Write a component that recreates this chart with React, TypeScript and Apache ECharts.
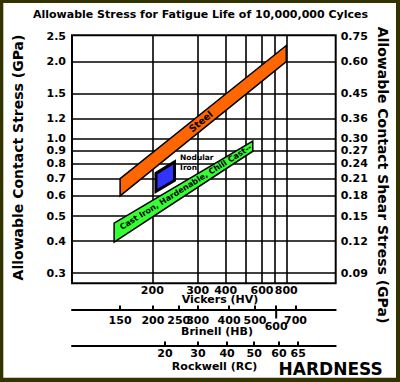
import React, { useEffect, useRef } from 'react';
import * as echarts from 'echarts';

// The hardness scale of this chart is logarithmic in (HV - 80); stress is logarithmic.
const HV_OFFSET = 80;
const hvRange = [121, 1474];
const gpaRange = [0.274, 2.53];

const vickersGrid = [200, 300, 400, 500, 600, 700, 800];
const vickersLabels = [200, 300, 400, 600, 800];

const brinellLabels = ['150', '200', '250', '300', '400', '500', '600', '700'];
const brinellAtHV = [158, 201, 251, 300, 415, 554, 709, 894];
const brinellLongTick = '600';

const rockwellLabels = ['20', '30', '40', '50', '60', '65'];
const rockwellAtHV = [222, 301, 406, 549, 733, 924];

const stressTicks = [2.5, 2.0, 1.5, 1.2, 1.0, 0.9, 0.8, 0.7, 0.6, 0.5, 0.4, 0.3];
const stressLabels = ['2.5', '2.0', '1.5', '1.2', '1.0', '0.9', '0.8', '0.7', '0.6', '0.5', '0.4', '0.3'];
const shearLabels = ['0.75', '0.60', '0.45', '0.36', '0.30', '0.27', '0.24', '0.21', '0.18', '0.15', '0.12', '0.09'];
const stressGrid = [2.0, 1.5, 1.2, 1.0, 0.9, 0.8, 0.7, 0.6, 0.5, 0.4, 0.3];

const bandNames = ['Steel', 'Cast Iron, Hardenable, Chill Cast--', 'Nodular\nIron'];
const bandHV = [[158, 800], [152, 540], [206, 241.5]];
const bandLeftGPa = [[0.60, 0.70], [0.396, 0.47], [0.625, 0.734]];
const bandRightGPa = [[2.0, 2.31], [0.895, 0.98], [0.689, 0.813]];
const labelHV = [309, 268, 254];
const labelGPa = [1.17, 0.648, 0.88];

const FONT = '"DejaVu Sans", Verdana, sans-serif';
const BAND_FILL = ['#FF6600', '#33FF33', '#3333FF'];
const BAND_STROKE = [1.5, 1.5, 3];
const BAND_FONT = [9.5, 8, 7.5];
const BRINELL_OFFSET = 26.2;
const ROCKWELL_OFFSET = 62.2;

const hx = (hv: number) => Math.log10(hv - HV_OFFSET);
const ly = (g: number) => Math.log10(g);

function lookup(positions: number[], labels: string[]) {
  return (v: number) => {
    let best = 0;
    let d = Infinity;
    positions.forEach((p, i) => {
      const dd = Math.abs(p - v);
      if (dd < d) { d = dd; best = i; }
    });
    return labels[best];
  };
}

const labelStyle = { color: '#000', fontFamily: FONT, fontWeight: 'bold' as const, fontSize: 11 };
const blackLine = { color: '#000', width: 2 };

function buildOption() {
  const xMin = hx(hvRange[0]);
  const xMax = hx(hvRange[1]);
  const yMin = ly(gpaRange[0]);
  const yMax = ly(gpaRange[1]);

  const brinellPos = brinellAtHV.map(hx);
  const brinellMainPos = brinellPos.filter((_, i) => brinellLabels[i] !== brinellLongTick);
  const brinellLongPos = brinellPos.filter((_, i) => brinellLabels[i] === brinellLongTick);
  const rockwellPos = rockwellAtHV.map(hx);
  const stressPos = stressTicks.map(ly);

  const baseX = {
    type: 'value' as const,
    min: xMin,
    max: xMax,
    gridIndex: 0,
    position: 'bottom' as const,
    splitLine: { show: false },
  };

  const text = (t: string, x: number, y: number, size: number, rotation = 0) => ({
    type: 'text',
    x,
    y,
    rotation,
    silent: true,
    style: {
      text: t,
      font: `bold ${size}px ${FONT}`,
      fill: '#000',
      align: 'center',
      verticalAlign: 'middle',
      textAlign: 'center',
      textVerticalAlign: 'middle',
    },
  });

  const frame = (x: number, y: number, w: number, h: number) => ({
    type: 'rect',
    silent: true,
    shape: { x, y, width: w, height: h },
    style: { fill: '#333300' },
  });

  return {
    animation: false,
    backgroundColor: '#fff',
    textStyle: { fontFamily: FONT },
    grid: {
      left: 72,
      top: 35.3,
      right: 64.3,
      bottom: 98.7,
      show: true,
      borderColor: '#000',
      borderWidth: 2,
      backgroundColor: 'transparent',
      containLabel: false,
      outerBoundsMode: 'none',
    },
    xAxis: [
      {
        ...baseX,
        axisLine: { show: false, onZero: false },
        axisTick: { show: false, customValues: vickersGrid.map(hx) },
        splitLine: { show: true, lineStyle: { color: '#000', width: 1.6 } },
        axisLabel: {
          ...labelStyle,
          margin: 1.5,
          customValues: vickersLabels.map(hx),
          formatter: (v: number) => String(Math.round(Math.pow(10, v) + HV_OFFSET)),
        },
      },
      {
        ...baseX,
        offset: BRINELL_OFFSET,
        axisLine: { show: true, onZero: false, lineStyle: blackLine },
        axisTick: { show: true, inside: true, length: 4, lineStyle: blackLine, customValues: brinellPos },
        axisLabel: { ...labelStyle, margin: 5, customValues: brinellMainPos, formatter: lookup(brinellPos, brinellLabels) },
      },
      {
        ...baseX,
        offset: BRINELL_OFFSET,
        axisLine: { show: false, onZero: false },
        axisTick: { show: false, customValues: brinellLongPos },
        axisLabel: { ...labelStyle, margin: 11, customValues: brinellLongPos, formatter: lookup(brinellPos, brinellLabels) },
      },
      {
        ...baseX,
        offset: ROCKWELL_OFFSET,
        axisLine: { show: true, onZero: false, lineStyle: blackLine },
        axisTick: { show: true, inside: true, length: 4, lineStyle: blackLine, customValues: rockwellPos },
        axisLabel: { ...labelStyle, margin: 2, customValues: rockwellPos, formatter: lookup(rockwellPos, rockwellLabels) },
      },
    ],
    yAxis: [
      {
        type: 'value',
        min: yMin,
        max: yMax,
        position: 'left',
        axisLine: { show: false, onZero: false },
        axisTick: { show: false, customValues: stressGrid.map(ly) },
        splitLine: { show: true, lineStyle: { color: '#000', width: 1.6 } },
        axisLabel: { ...labelStyle, margin: 6, customValues: stressPos, formatter: lookup(stressPos, stressLabels) },
      },
      {
        type: 'value',
        min: yMin,
        max: yMax,
        position: 'right',
        axisLine: { show: false, onZero: false },
        axisTick: { show: false, customValues: stressGrid.map(ly) },
        splitLine: { show: false },
        axisLabel: { ...labelStyle, margin: 5, customValues: stressPos, formatter: lookup(stressPos, shearLabels) },
      },
    ],
    series: [
      {
        type: 'custom',
        coordinateSystem: 'cartesian2d',
        xAxisIndex: 0,
        yAxisIndex: 0,
        silent: true,
        data: bandNames.map((_, i) => [hx(bandHV[i][0]), ly(bandLeftGPa[i][0])]),
        encode: { x: 0, y: 1 },
        renderItem: (params: any, api: any) => {
          const i = params.dataIndex;
          const [h0, h1] = bandHV[i];
          const pts = [
            api.coord([hx(h0), ly(bandLeftGPa[i][1])]),
            api.coord([hx(h1), ly(bandRightGPa[i][1])]),
            api.coord([hx(h1), ly(bandRightGPa[i][0])]),
            api.coord([hx(h0), ly(bandLeftGPa[i][0])]),
          ];
          const m0 = [(pts[0][0] + pts[3][0]) / 2, (pts[0][1] + pts[3][1]) / 2];
          const m1 = [(pts[1][0] + pts[2][0]) / 2, (pts[1][1] + pts[2][1]) / 2];
          const angle = Math.atan2(m0[1] - m1[1], m1[0] - m0[0]);
          const lp = api.coord([hx(labelHV[i]), ly(labelGPa[i])]);
          const inside = i < 2;
          return {
            type: 'group',
            children: [
              {
                type: 'polygon',
                shape: { points: pts },
                style: { fill: BAND_FILL[i], stroke: '#000', lineWidth: BAND_STROKE[i], lineJoin: 'miter' },
              },
              {
                type: 'text',
                x: lp[0],
                y: lp[1],
                rotation: inside ? angle : 0,
                style: {
                  text: bandNames[i],
                  font: `bold ${BAND_FONT[i]}px ${FONT}`,
                  fill: '#000',
                  align: inside ? 'center' : 'left',
                  verticalAlign: inside ? 'middle' : 'top',
                  textAlign: inside ? 'center' : 'left',
                  textVerticalAlign: inside ? 'middle' : 'top',
                  lineHeight: 9.5,
                },
              },
            ],
          };
        },
      },
      {
        // the long Brinell tick that points down below the scale line
        type: 'custom',
        coordinateSystem: 'cartesian2d',
        xAxisIndex: 0,
        yAxisIndex: 0,
        silent: true,
        clip: false,
        z: 10,
        data: brinellLongPos.map((p) => [p, yMin]),
        encode: { x: 0, y: 1 },
        renderItem: (params: any, api: any) => {
          const pt = api.coord([api.value(0), api.value(1)]);
          return {
            type: 'rect',
            shape: { x: pt[0] - 1, y: pt[1] + BRINELL_OFFSET, width: 2, height: 9 },
            style: { fill: '#000' },
          };
        },
      },
    ],
    graphic: [
      frame(0, 0, 400, 3),
      frame(0, 377.7, 400, 4.3),
      frame(0, 0, 3.3, 382),
      frame(396, 0, 4, 382),
      text('Allowable Stress for Fatigue Life of 10,000,000 Cylces', 200.5, 14.5, 11),
      text('Allowable Contact Stress (GPa)', 18, 157.5, 14, Math.PI / 2),
      text('Allowable Contact Shear Stress (GPa)', 383, 175, 14, -Math.PI / 2),
      text('Vickers (HV)', 220, 299, 11),
      text('Brinell (HB)', 217, 331, 11),
      text('Rockwell (RC)', 214.6, 366.7, 11),
      text('HARDNESS', 330.7, 369.3, 17),
    ],
  };
}

export default function App() {
  const ref = useRef<HTMLDivElement>(null);
  useEffect(() => {
    if (!ref.current) return;
    const chart = echarts.init(ref.current, undefined, { renderer: 'svg' });
    chart.setOption(buildOption() as any);
    return () => chart.dispose();
  }, []);
  return (
    <div
      ref={ref}
      style={{ position: 'absolute', left: 0, top: 0, width: 400, height: 382, background: '#fff' }}
    />
  );
}
